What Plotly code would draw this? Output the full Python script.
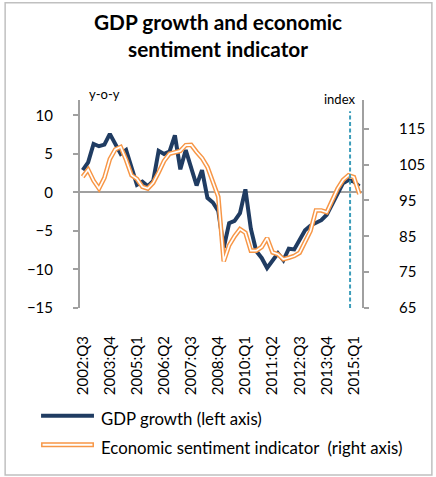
import plotly.graph_objects as go

# Quarterly categories, 2002:Q3 - 2015:Q2
quarters = [
    "2002:Q3", "2002:Q4",
    "2003:Q1", "2003:Q2", "2003:Q3", "2003:Q4",
    "2004:Q1", "2004:Q2", "2004:Q3", "2004:Q4",
    "2005:Q1", "2005:Q2", "2005:Q3", "2005:Q4",
    "2006:Q1", "2006:Q2", "2006:Q3", "2006:Q4",
    "2007:Q1", "2007:Q2", "2007:Q3", "2007:Q4",
    "2008:Q1", "2008:Q2", "2008:Q3", "2008:Q4",
    "2009:Q1", "2009:Q2", "2009:Q3", "2009:Q4",
    "2010:Q1", "2010:Q2", "2010:Q3", "2010:Q4",
    "2011:Q1", "2011:Q2", "2011:Q3", "2011:Q4",
    "2012:Q1", "2012:Q2", "2012:Q3", "2012:Q4",
    "2013:Q1", "2013:Q2", "2013:Q3", "2013:Q4",
    "2014:Q1", "2014:Q2", "2014:Q3", "2014:Q4",
    "2015:Q1", "2015:Q2",
]

# GDP growth, y-o-y % (left axis)
gdp_growth = [
    2.9, 3.9, 6.3, 6.0, 6.2, 7.6, 6.3, 5.0, 5.5, 3.3,
    1.0, 1.4, 0.8, 1.5, 5.4, 5.0, 5.3, 7.4, 3.0, 5.5,
    3.2, 0.9, 2.9, -0.7, -1.3, -2.4, -7.2, -4.0, -3.7, -2.7,
    0.4, -4.7, -7.6, -8.5, -9.8, -8.8, -7.9, -8.8, -7.3, -7.4,
    -6.2, -4.9, -4.3, -4.0, -3.6, -2.9, -1.6, -0.1, 1.2, 1.6,
    1.4, 0.8,
]

# Economic sentiment indicator, index (right axis)
esi = [
    101.6, 103.6, 100.5, 98.3, 101.3, 106.5, 109.2, 109.9, 106.3, 102.0,
    101.0, 98.8, 98.3, 99.9, 102.8, 106.0, 108.0, 108.5, 108.8, 110.4,
    110.5, 108.5, 106.8, 104.3, 100.0, 96.0, 78.0, 82.5, 85.0, 87.0,
    86.0, 81.0, 81.0, 82.0, 84.5, 80.5, 80.0, 78.6, 79.0, 79.5,
    80.4, 83.5, 86.5, 92.2, 92.2, 91.7, 95.0, 98.3, 100.7, 102.0,
    101.5, 96.8,
]

# Labelled quarters on the horizontal axis
tick_quarters = ["2002:Q3", "2003:Q4", "2005:Q1", "2006:Q2", "2007:Q3", "2008:Q4",
                 "2010:Q1", "2011:Q2", "2012:Q3", "2013:Q4", "2015:Q1"]
left_ticks = [-15, -10, -5, 0, 5, 10]
right_ticks = [65, 75, 85, 95, 105, 115]

# Position of the dashed marker (category index)
marker_pos = 49.3

NAVY = "#203C62"
ORANGE = "#F79646"
TEAL = "#3C9DBA"
AXIS_GREY = "#A0A0A0"
FONT = "Lato"

W, H = 436, 477
L, R, T, B = 80, 73.5, 99.5, 169
PW, PH = W - L - R, H - T - B


def px(x):
    return (x - L) / PW


def py(y):
    return (H - B - y) / PH


fig = go.Figure()

fig.add_trace(go.Scatter(
    x=quarters, y=gdp_growth, mode="lines", name="GDP growth (left axis)",
    line=dict(color=NAVY, width=4), showlegend=False, yaxis="y",
))
fig.add_trace(go.Scatter(
    x=quarters, y=esi, mode="lines", name="Economic sentiment indicator (right axis)",
    line=dict(color=ORANGE, width=4.6), showlegend=False, yaxis="y2",
))
fig.add_trace(go.Scatter(
    x=quarters, y=esi, mode="lines", hoverinfo="skip",
    line=dict(color="white", width=1.7), showlegend=False, yaxis="y2",
))

shapes = [
    # chart border
    dict(type="rect", xref="paper", yref="paper",
         x0=px(5), x1=px(432.5), y0=py(475.5), y1=py(2),
         line=dict(color="#C0C0C0", width=1.5), fillcolor="rgba(0,0,0,0)", layer="below"),
    # dashed marker
    dict(type="line", xref="x", yref="paper", x0=marker_pos, x1=marker_pos,
         y0=0, y1=py(110.7), line=dict(color=TEAL, width=2, dash="4px,2.5px")),
    # legend samples
    dict(type="line", xref="paper", yref="paper", x0=px(41), x1=px(94),
         y0=py(416), y1=py(416), line=dict(color=NAVY, width=4)),
    dict(type="line", xref="paper", yref="paper", x0=px(41), x1=px(94),
         y0=py(445), y1=py(445), line=dict(color=ORANGE, width=5)),
    dict(type="line", xref="paper", yref="paper", x0=px(42.5), x1=px(92.5),
         y0=py(445), y1=py(445), line=dict(color="white", width=2)),
]

annotations = [
    dict(text="<b>GDP growth and economic<br>sentiment indicator</b>",
         xref="paper", yref="paper", x=px(218), y=py(34), xanchor="center", yanchor="middle",
         showarrow=False, font=dict(family=FONT, size=20.8, color="black")),
    dict(text="y-o-y", xref="paper", yref="paper", x=px(105), y=py(93),
         xanchor="center", yanchor="middle", showarrow=False,
         font=dict(family=FONT, size=13, color="black")),
    dict(text="index", xref="paper", yref="paper", x=px(340), y=py(98),
         xanchor="center", yanchor="middle", showarrow=False,
         font=dict(family=FONT, size=13, color="black")),
    dict(text="GDP growth (left axis)", xref="paper", yref="paper", x=px(99), y=py(419),
         xanchor="left", yanchor="middle", showarrow=False,
         font=dict(family=FONT, size=16.8, color="black")),
    dict(text="Economic sentiment indicator&nbsp;&nbsp;(right axis)", xref="paper", yref="paper",
         x=px(99), y=py(448), xanchor="left", yanchor="middle", showarrow=False,
         font=dict(family=FONT, size=16.8, color="black")),
]

fig.update_layout(
    width=W, height=H,
    margin=dict(l=L, r=R, t=T, b=B, pad=0),
    paper_bgcolor="white", plot_bgcolor="white",
    font=dict(family=FONT, size=15, color="black"),
    showlegend=False,
    xaxis=dict(
        type="category", range=[-0.5, len(quarters) - 0.5],
        tickmode="array", tickvals=tick_quarters, ticktext=tick_quarters,
        tickangle=-90, ticks="", showline=False, showgrid=False, zeroline=False,
        ticklabelstandoff=24, tickfont=dict(family=FONT, size=15, color="black"),
    ),
    yaxis=dict(
        range=[-15, 12], tickvals=left_ticks, showgrid=False,
        showline=True, linecolor=AXIS_GREY, linewidth=2,
        ticks="outside", ticklen=5, tickwidth=2, tickcolor=AXIS_GREY,
        zeroline=True, zerolinecolor=AXIS_GREY, zerolinewidth=2,
        ticklabelstandoff=17, tickfont=dict(family=FONT, size=15, color="black"),
    ),
    yaxis2=dict(
        range=[65, 123], tickvals=right_ticks, overlaying="y", side="right",
        showgrid=False, zeroline=False,
        showline=True, linecolor=AXIS_GREY, linewidth=2,
        ticks="outside", ticklen=5, tickwidth=2, tickcolor=AXIS_GREY,
        ticklabelstandoff=27, tickfont=dict(family=FONT, size=15, color="black"),
    ),
    shapes=shapes,
    annotations=annotations,
)

fig.write_html("out.html")
